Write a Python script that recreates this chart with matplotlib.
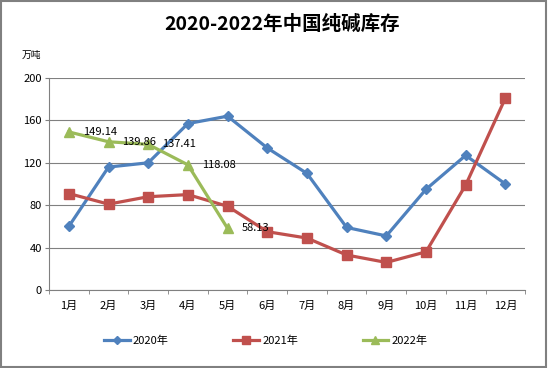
import matplotlib
matplotlib.use("Agg")
import matplotlib.pyplot as plt
from matplotlib.patches import Rectangle

plt.rcParams['font.family'] = ['Noto Sans CJK SC', 'DejaVu Sans']

# ----------------------------
# Data
# ----------------------------
months = ["1月", "2月", "3月", "4月", "5月", "6月", "7月", "8月", "9月", "10月", "11月", "12月"]
stock_2020 = [60, 116, 120, 157, 164, 134, 110, 59, 51, 95, 127, 100]
stock_2021 = [91, 81, 88, 90, 79, 55, 49, 33, 26, 36, 99, 181]
stock_2022 = [149.14, 139.86, 137.41, 118.08, 58.13]

# ----------------------------
# Plot
# ----------------------------
fig = plt.figure(figsize=(5.48, 3.68), dpi=100)
ax = fig.add_axes([0.0894, 0.212, 0.869, 0.576])

x = list(range(1, len(months) + 1))
ax.plot(x, stock_2020, color="#4F81BD", lw=2.3, marker="D", ms=5.5,
        label="2020年", zorder=3)
ax.plot(x, stock_2021, color="#C0504D", lw=2.3, marker="s", ms=7,
        label="2021年", zorder=3)
x22 = x[:len(stock_2022)]
ax.plot(x22, stock_2022, color="#9BBB59", lw=2.3, marker="^", ms=7.5,
        label="2022年", zorder=4)

for xi, v in zip(x22, stock_2022):
    ax.annotate(f"{v:.2f}", (xi, v), xytext=(10, 0), textcoords="offset points",
                va="center", ha="left", fontsize=8, color="black", zorder=5)

ax.set_xlim(0.5, 12.5)
ax.set_ylim(0, 200)
ax.set_yticks(range(0, 201, 40))
ax.set_xticks(x)
ax.set_xticklabels(months, fontsize=8)
ax.set_xticks([i + 0.5 for i in range(0, 13)], minor=True)
ax.tick_params(axis="x", which="major", length=0, pad=8)
ax.tick_params(axis="x", which="minor", length=3, color="#808080")
ax.tick_params(axis="y", labelsize=8, length=3, color="#808080", pad=2)

ax.grid(axis="y", color="#808080", lw=0.8)
ax.set_axisbelow(True)
for s in ["top", "right"]:
    ax.spines[s].set_visible(False)
for s in ["left", "bottom"]:
    ax.spines[s].set_color("#808080")
    ax.spines[s].set_linewidth(0.8)

fig.text(0.515, 0.935, "2020-2022年中国纯碱库存", ha="center", va="center",
         fontsize=14, fontweight="bold")
fig.text(0.04, 0.85, "万吨", ha="left", va="center", fontsize=7)

fig.legend(loc="center", bbox_to_anchor=(0.485, 0.075), ncol=3, frameon=False,
           fontsize=8, handlelength=2.3, columnspacing=5.8, handletextpad=0.3,
           markerscale=0.8)

fig.patches.append(Rectangle((0.002, 0.003), 0.995, 0.994, transform=fig.transFigure,
                             fill=False, edgecolor="#808080", lw=1.5))

fig.savefig("out.png", dpi=100)
